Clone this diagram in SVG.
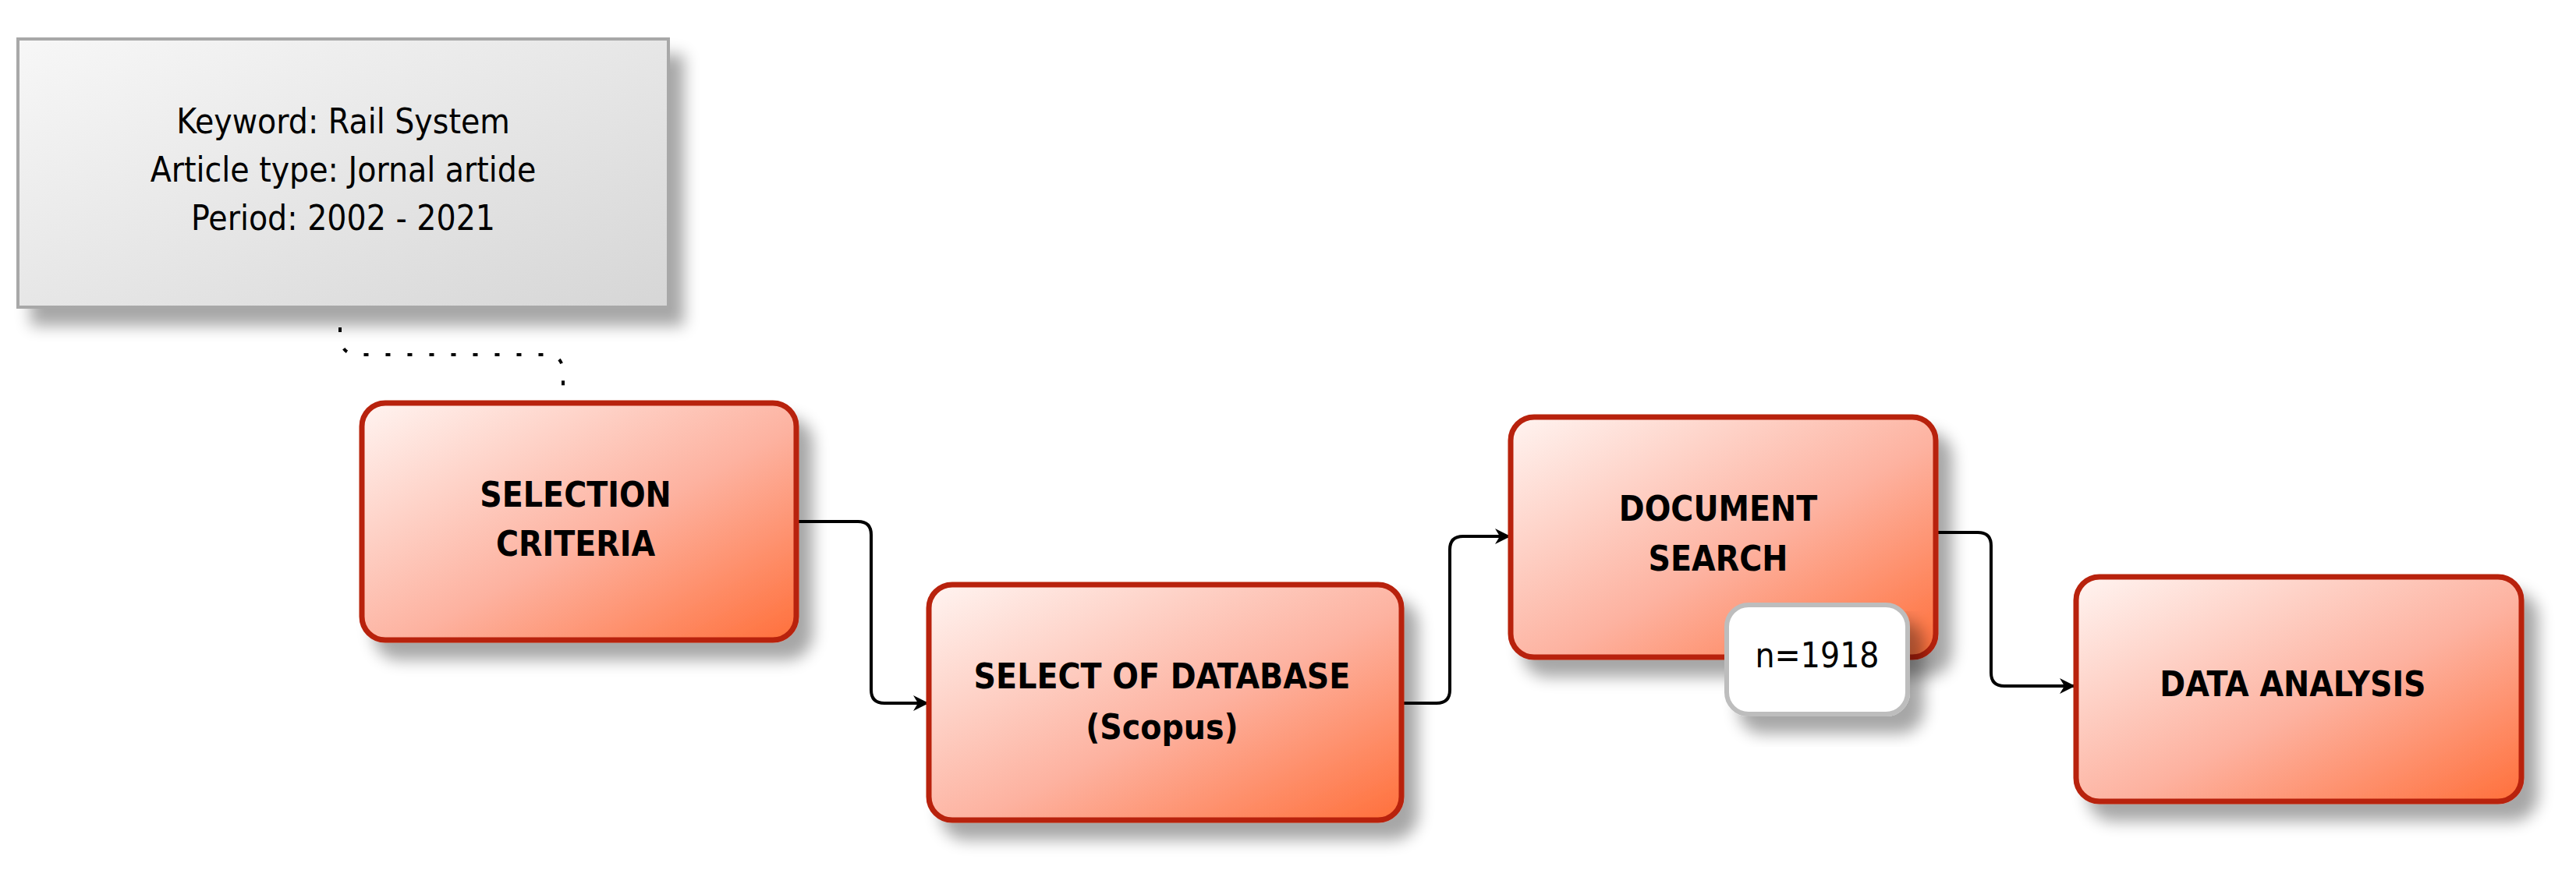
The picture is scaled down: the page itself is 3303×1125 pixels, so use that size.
<svg xmlns="http://www.w3.org/2000/svg" width="3303" height="1125" viewBox="0 0 3303 1125">
<defs>
<linearGradient id="red" x1="0" y1="0" x2="1" y2="1"><stop offset="0" stop-color="#fff4f1"/><stop offset="0.55" stop-color="#fdb2a0"/><stop offset="1" stop-color="#ff6f3a"/></linearGradient>
<linearGradient id="gray" x1="0" y1="0" x2="1" y2="1"><stop offset="0" stop-color="#f7f7f7"/><stop offset="1" stop-color="#d6d6d6"/></linearGradient>
<filter id="sh" x="-10%" y="-10%" width="130%" height="140%"><feGaussianBlur in="SourceAlpha" stdDeviation="10"/><feOffset dx="18" dy="22"/><feComponentTransfer><feFuncA type="linear" slope="0.35"/></feComponentTransfer><feMerge><feMergeNode/><feMergeNode in="SourceGraphic"/></feMerge></filter>
<marker id="arr" viewBox="0 0 20 20" refX="18" refY="10" markerWidth="20" markerHeight="20" markerUnits="userSpaceOnUse" orient="auto"><path d="M0,0 L20,10 L0,20 L6,10 Z" fill="#000"/></marker>
</defs>
<style>
.box{fill:url(#red);stroke:#b8200a;stroke-width:7;filter:url(#sh)}
.lbl{font-family:"DejaVu Sans",sans-serif;font-stretch:condensed;font-weight:bold;font-size:44px;text-anchor:middle;fill:#000}
.nt{font-family:"DejaVu Sans",sans-serif;font-stretch:condensed;font-size:44px;text-anchor:middle;fill:#000}
.con{fill:none;stroke:#000;stroke-width:4}
</style>
<g id="note">
<rect x="23" y="50" width="834" height="344" fill="url(#gray)" stroke="#a8a8a8" stroke-width="4" filter="url(#sh)"/>
<text class="nt" x="440" y="171">Keyword: Rail System</text>
<text class="nt" x="440" y="233">Article type: Jornal artide</text>
<text class="nt" x="440" y="295">Period: 2002 - 2021</text>
</g>
<g id="connectors">
<path class="con" d="M436,420 L436,430 Q436,455 460,455 L700,455 Q722,455 722,478 L722,515" stroke-dasharray="6,22" stroke-width="7"/>
<path class="con" d="M1021,669 L1100,669 Q1117,669 1117,686 L1117,885 Q1117,902 1134,902 L1189,902" marker-end="url(#arr)"/>
<path class="con" d="M1797,902 L1842,902 Q1859,902 1859,885 L1859,705 Q1859,688 1876,688 L1935,688" marker-end="url(#arr)"/>
<path class="con" d="M2480,683 L2536,683 Q2553,683 2553,700 L2553,863 Q2553,880 2570,880 L2659,880" marker-end="url(#arr)"/>
</g>
<g id="sc"><rect class="box" x="464" y="517" width="557" height="304" rx="30"/>
<text class="lbl" x="738" y="650">SELECTION</text><text class="lbl" x="738" y="713">CRITERIA</text></g>
<g id="db"><rect class="box" x="1191" y="750" width="606" height="302" rx="30"/>
<text class="lbl" x="1490" y="883">SELECT OF DATABASE</text><text class="lbl" x="1490" y="948">(Scopus)</text></g>
<g id="ds"><rect class="box" x="1937" y="535" width="545" height="308" rx="30"/>
<text class="lbl" x="2203" y="668">DOCUMENT</text><text class="lbl" x="2203" y="732">SEARCH</text></g>
<g id="n"><rect x="2214" y="776" width="232" height="140" rx="28" fill="#fff" stroke="#bdbdbd" stroke-width="6" filter="url(#sh)"/>
<text class="nt" x="2330" y="856">n=1918</text></g>
<g id="da"><rect class="box" x="2662" y="740" width="571" height="288" rx="30"/>
<text class="lbl" x="2940" y="893">DATA ANALYSIS</text></g>
</svg>
